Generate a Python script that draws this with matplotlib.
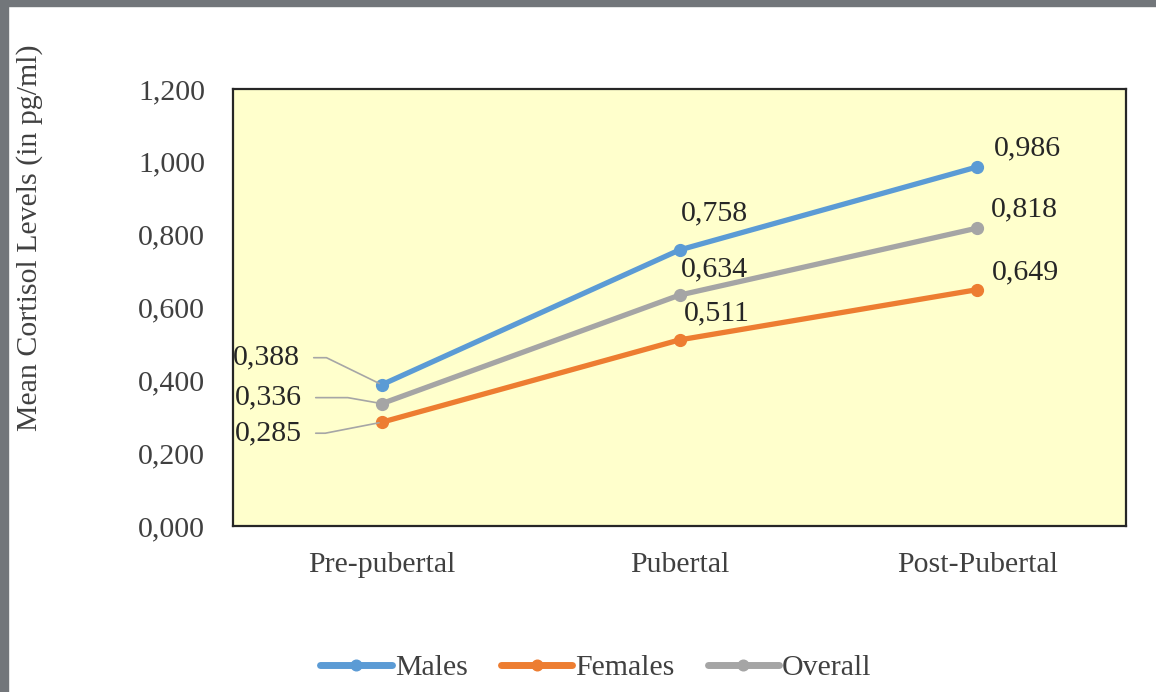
import matplotlib
matplotlib.use("Agg")
import matplotlib.pyplot as plt
from matplotlib.patches import Rectangle
from matplotlib.ticker import FuncFormatter

plt.rcParams['font.family'] = ['Liberation Serif', 'DejaVu Serif']

stages = ["Pre-pubertal", "Pubertal", "Post-Pubertal"]
males = [0.388, 0.758, 0.986]
females = [0.285, 0.511, 0.649]
overall = [0.336, 0.634, 0.818]

series = [("Males", males, "#5B9BD5"),
          ("Females", females, "#ED7D31"),
          ("Overall", overall, "#A5A5A5")]

# label offsets in pixels (relative to the point)
offsets = {
    "Males": [(-82, 27), (35, 37), (50, 19)],
    "Females": [(-80, -11), (37, 27), (48, 17)],
    "Overall": [(-80, 6), (35, 26), (47, 19)],
}
leader_angle = {"Males": 154, "Females": -169, "Overall": 170}

fs = 21.5
txt = "#404040"

fig = plt.figure(figsize=(11.56, 6.92), dpi=100)
ax = fig.add_axes([233 / 1156, 1 - 526 / 692, (1126 - 233) / 1156, (526 - 89) / 692])
ax.set_facecolor("#FFFFCC")

x = list(range(len(stages)))
for name, vals, col in series:
    ax.plot(x, vals, color=col, lw=3.8, marker="o", ms=8.5, label=name,
            solid_capstyle="round", zorder=3)
    for i, v in enumerate(vals):
        dx, dy = offsets[name][i]
        lbl = f"{v:.3f}".replace(".", ",")
        if i == 0:
            ax.annotate(lbl, (i, v), xytext=(dx, dy), textcoords="offset pixels",
                        ha="right", va="center", fontsize=fs, color="#262626",
                        arrowprops=dict(arrowstyle="-", color="#A6A6A6", lw=1.2,
                                        relpos=(1, 0.5), shrinkA=8, shrinkB=2,
                                        connectionstyle=f"angle,angleA=0,angleB={leader_angle[name]},rad=0"),
                        zorder=4)
        else:
            ax.annotate(lbl, (i, v), xytext=(dx, dy), textcoords="offset pixels",
                        ha="center", va="center", fontsize=fs, color="#262626", zorder=4)

ax.set_xlim(-0.5, 2.5)
ax.set_ylim(0, 1.2)
ax.set_yticks([0, 0.2, 0.4, 0.6, 0.8, 1.0, 1.2])
ax.yaxis.set_major_formatter(FuncFormatter(lambda v, p: f"{v:.3f}".replace(".", ",")))
ax.set_xticks(x)
ax.set_xticklabels(stages)
ax.tick_params(length=0, labelsize=fs, labelcolor=txt)
ax.tick_params(axis="y", pad=20)
ax.tick_params(axis="x", pad=19)
for s in ax.spines.values():
    s.set_color("#262626")
    s.set_linewidth(1.6)

fig.text(30 / 1156, 1 - 238 / 692, "Mean Cortisol Levels (in pg/ml)", rotation=90,
         ha="center", va="center", fontsize=fs, color=txt)

leg = fig.legend(loc="center", bbox_to_anchor=(596 / 1156, 1 - 668 / 692), ncol=3,
                 frameon=False, fontsize=fs, handlelength=2.4, handletextpad=0.1,
                 columnspacing=1.1, labelcolor=txt, markerscale=0.9)
for h in leg.legend_handles:
    h.set_linewidth(5)

# screenshot border
fig.patches.append(Rectangle((0, 1 - 6 / 692), 1, 6 / 692, transform=fig.transFigure,
                             color="#72767A", zorder=10))
fig.patches.append(Rectangle((0, 0), 8 / 1156, 1, transform=fig.transFigure,
                             color="#72767A", zorder=10))

fig.savefig("out.png", dpi=100)
